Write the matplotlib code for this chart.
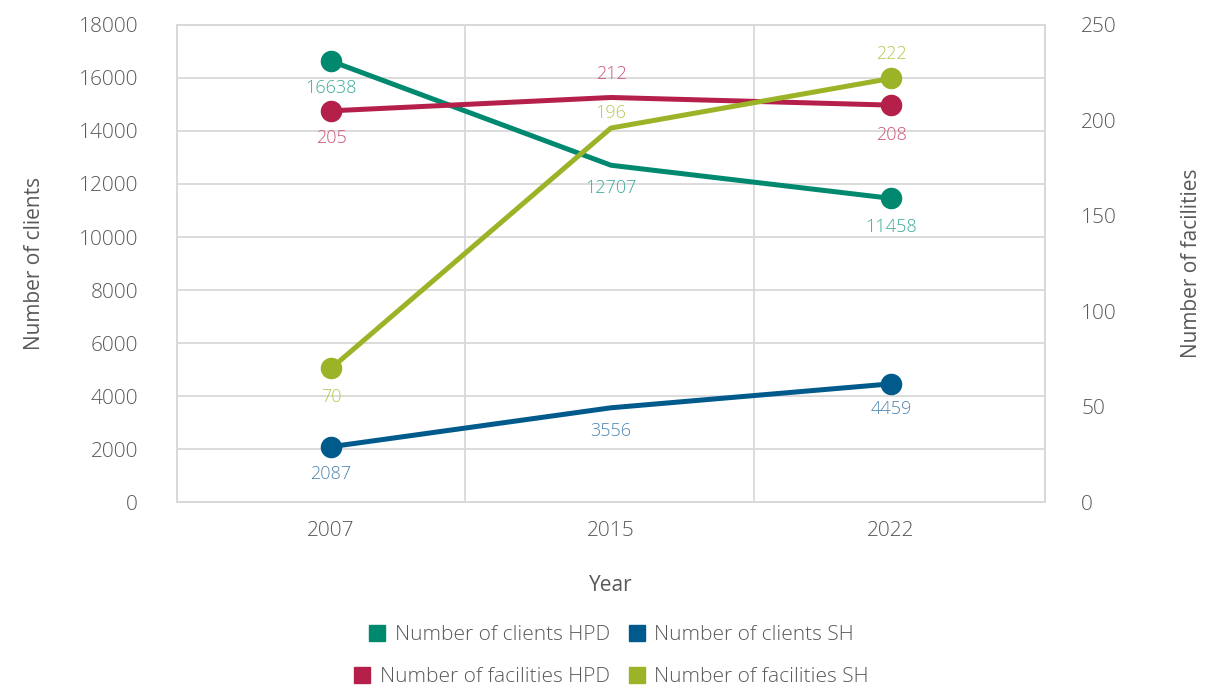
import matplotlib
matplotlib.use("Agg")
import matplotlib.pyplot as plt
from matplotlib.lines import Line2D

plt.rcParams['font.family'] = ['Open Sans', 'DejaVu Sans']
plt.rcParams['font.weight'] = 'light'

# Data
years = ["2007", "2015", "2022"]
clients_hpd = [16638, 12707, 11458]
clients_sh = [2087, 3556, 4459]
facilities_hpd = [205, 212, 208]
facilities_sh = [70, 196, 222]

# Colours (line, label)
c_teal, l_teal = "#00896F", "#3DAA9A"
c_blue, l_blue = "#005A8C", "#4F86B0"
c_red, l_red = "#B5204B", "#CF5676"
c_green, l_green = "#9BB327", "#B5C94F"
text_grey = "#595959"
grid_grey = "#D9D9D9"

fig = plt.figure(figsize=(12.3, 6.88), dpi=100)
ax = fig.add_axes([0.1439, 0.2703, 0.7057, 0.6934])
ax2 = ax.twinx()

x = list(range(len(years)))


def draw(axis, vals, color, lab_color, offsets):
    axis.plot(x, vals, color=color, lw=3.6, marker="o", ms=14.5,
              markevery=[0, len(vals) - 1], solid_joinstyle="round", zorder=3)
    for xi, v, dy in zip(x, vals, offsets):
        axis.annotate(str(v), (xi, v), xytext=(0, dy), textcoords="offset points",
                      ha="center", va="baseline", fontsize=13, color=lab_color)


# label offsets (baseline, points)
draw(ax, clients_hpd, c_teal, l_teal, [-23, -20, -24])
draw(ax, clients_sh, c_blue, l_blue, [-23, -20, -22])
draw(ax2, facilities_hpd, c_red, l_red, [-23, 13, -25])
draw(ax2, facilities_sh, c_green, l_green, [-24, 7, 14])

ax.set_xlim(-0.55, 2.55)
ax.set_ylim(0, 18000)
ax2.set_ylim(0, 250)
ax.set_yticks(range(0, 18001, 2000))
ax2.set_yticks(range(0, 251, 50))
ax.set_xticks(x)
ax.set_xticklabels(years)

# grid: horizontal at left ticks, vertical between categories
for yv in range(0, 18001, 2000):
    ax.axhline(yv, color=grid_grey, lw=1.3, zorder=0)
for xv in [0.48, 1.51]:
    ax.axvline(xv, color=grid_grey, lw=1.3, zorder=0)

for a in (ax, ax2):
    for s in a.spines.values():
        s.set_color(grid_grey)
        s.set_linewidth(1.3)
    a.tick_params(length=0, labelsize=15, labelcolor=text_grey)
ax.tick_params(axis="y", pad=28)
ax.tick_params(axis="x", pad=14)
ax2.tick_params(axis="y", pad=26)

ax.set_xlabel("Year", fontsize=15, color=text_grey, labelpad=24)
ax.set_ylabel("Number of clients", fontsize=15, color=text_grey, labelpad=24)
ax2.set_ylabel("Number of facilities", fontsize=15, color=text_grey, labelpad=46)


def sq(c):
    return Line2D([], [], marker="s", ls="none", color=c, ms=11)


leg_kw = dict(ncol=2, frameon=False, fontsize=15, handletextpad=0.45,
              columnspacing=0.9, labelcolor=text_grey, handlelength=0.8)
fig.legend([sq(c_teal), sq(c_blue)], ["Number of clients HPD", "Number of clients SH"],
           loc="center", bbox_to_anchor=(0.497, 0.077), **leg_kw)
fig.legend([sq(c_red), sq(c_green)], ["Number of facilities HPD", "Number of facilities SH"],
           loc="center", bbox_to_anchor=(0.497, 0.016), **leg_kw)

fig.savefig("out.png", dpi=100)
